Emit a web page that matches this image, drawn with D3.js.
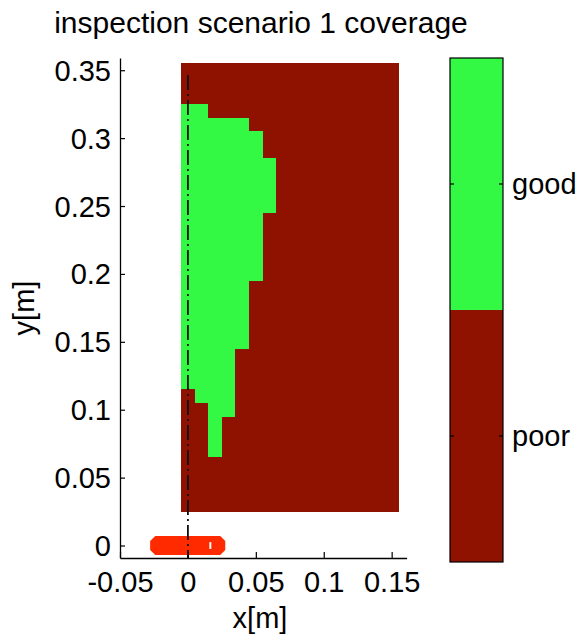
<!DOCTYPE html>
<html>
<head>
<meta charset="utf-8">
<script src="https://cdn.jsdelivr.net/npm/d3@7"></script>
<style>
  html, body { margin: 0; padding: 0; background: #ffffff; }
  svg { display: block; }
  text { font-family: "Liberation Sans", Arial, sans-serif; fill: #000; }
</style>
</head>
<body>
<svg id="chart" width="580" height="637"></svg>
<script>
// ---------------- data ----------------
const titleText = "inspection scenario 1 coverage";
const xLabel = "x[m]";
const yLabel = "y[m]";
const xTicks = [-0.05, 0, 0.05, 0.1, 0.15];
const xTickLabels = ["-0.05", "0", "0.05", "0.1", "0.15"];
const yTicks = [0, 0.05, 0.1, 0.15, 0.2, 0.25, 0.3, 0.35];
const yTickLabels = ["0", "0.05", "0.1", "0.15", "0.2", "0.25", "0.3", "0.35"];
const xDomain = [-0.05, 0.161];
const yDomain = [-0.0092, 0.359];
// cell centres (m); cells are 0.01 m square
const cellSize = 0.01;
const xCells = [0, 0.01, 0.02, 0.03, 0.04, 0.05, 0.06, 0.07, 0.08, 0.09, 0.10, 0.11, 0.12, 0.13, 0.14, 0.15];
const yCells = [0.35, 0.34, 0.33, 0.32, 0.31, 0.30, 0.29, 0.28, 0.27, 0.26, 0.25, 0.24, 0.23, 0.22,
                0.21, 0.20, 0.19, 0.18, 0.17, 0.16, 0.15, 0.14, 0.13, 0.12, 0.11, 0.10, 0.09, 0.08,
                0.07, 0.06, 0.05, 0.04, 0.03];
// coverage per row (top to bottom), one char per x cell: 1 = good, 0 = poor
const coverage = [
  "0000000000000000", // 0.35
  "0000000000000000", // 0.34
  "0000000000000000", // 0.33
  "1100000000000000", // 0.32
  "1111100000000000", // 0.31
  "1111110000000000", // 0.30
  "1111110000000000", // 0.29
  "1111111000000000", // 0.28
  "1111111000000000", // 0.27
  "1111111000000000", // 0.26
  "1111111000000000", // 0.25
  "1111110000000000", // 0.24
  "1111110000000000", // 0.23
  "1111110000000000", // 0.22
  "1111110000000000", // 0.21
  "1111110000000000", // 0.20
  "1111100000000000", // 0.19
  "1111100000000000", // 0.18
  "1111100000000000", // 0.17
  "1111100000000000", // 0.16
  "1111100000000000", // 0.15
  "1111000000000000", // 0.14
  "1111000000000000", // 0.13
  "1111000000000000", // 0.12
  "0111000000000000", // 0.11
  "0011000000000000", // 0.10
  "0010000000000000", // 0.09
  "0010000000000000", // 0.08
  "0010000000000000", // 0.07
  "0000000000000000", // 0.06
  "0000000000000000", // 0.05
  "0000000000000000", // 0.04
  "0000000000000000"  // 0.03
];
const classNames = ["poor", "good"];
const classColors = ["#8f1200", "#33f844"];
// robot outline (m) at the origin
const robotX = [-0.0240, 0.0238, 0.0275, 0.0275, 0.0238, -0.0240, -0.0278, -0.0278];
const robotY = [0.0070, 0.0070, 0.0033, -0.0033, -0.0070, -0.0070, -0.0033, 0.0033];
const robotMarkX = [0.0165, 0.0165];
const robotMarkY = [-0.0025, 0.0025];
// dash-dot reference line along x = 0
const refLineX = [0, 0];
const refLineY = [-0.0092, 0.3465];

// ---------------- layout ----------------
const svg = d3.select("#chart");
const plot = { left: 120, right: 406.6, top: 58, bottom: 558 };
const x = d3.scaleLinear().domain(xDomain).range([plot.left, plot.right]);
const y = d3.scaleLinear().domain(yDomain).range([plot.bottom, plot.top]);
const FS = 29;

// cells
const cells = [];
coverage.forEach((row, ri) => {
  row.split("").forEach((c, ci) => {
    cells.push({ x: xCells[ci], y: yCells[ri], v: +c });
  });
});
const gCells = svg.append("g").attr("shape-rendering", "crispEdges");
gCells.selectAll("rect").data(cells).join("rect")
  .attr("x", d => x(d.x - cellSize / 2))
  .attr("y", d => y(d.y + cellSize / 2))
  .attr("width", d => x(d.x + cellSize / 2) - x(d.x - cellSize / 2) + 0.6)
  .attr("height", d => y(d.y - cellSize / 2) - y(d.y + cellSize / 2) + 0.6)
  .attr("fill", d => classColors[d.v]);

// robot
const robotPts = robotX.map((v, i) => [x(v), y(robotY[i])]);
svg.append("polygon")
  .attr("points", robotPts.map(p => p.join(",")).join(" "))
  .attr("fill", "#ff2a00");
svg.append("line")
  .attr("x1", x(robotMarkX[0])).attr("x2", x(robotMarkX[1]))
  .attr("y1", y(robotMarkY[0])).attr("y2", y(robotMarkY[1]))
  .attr("stroke", "#ffffff").attr("stroke-width", 2);

// reference dash-dot line
svg.append("line")
  .attr("x1", x(refLineX[0])).attr("x2", x(refLineX[1]))
  .attr("y1", y(refLineY[1])).attr("y2", y(refLineY[0]))
  .attr("stroke", "#111").attr("stroke-width", 1.8)
  .attr("stroke-dasharray", "15,4,2,4");

// axes
const xAxis = d3.axisBottom(x).tickValues(xTicks)
  .tickFormat((d, i) => xTickLabels[i]).tickSizeInner(-6).tickSizeOuter(0).tickPadding(8);
const yAxis = d3.axisLeft(y).tickValues(yTicks)
  .tickFormat((d, i) => yTickLabels[i]).tickSizeInner(-5).tickSizeOuter(0).tickPadding(9);

const gx = svg.append("g").attr("transform", `translate(0,${plot.bottom})`).call(xAxis);
const gy = svg.append("g").attr("transform", `translate(${plot.left},0)`).call(yAxis);
[gx, gy].forEach(g => {
  g.select(".domain").attr("stroke", "#000").attr("stroke-width", 1.3);
  g.selectAll(".tick line").attr("stroke", "#000").attr("stroke-width", 1.2);
  g.selectAll(".tick text")
    .attr("font-family", '"Liberation Sans", Arial, sans-serif')
    .attr("font-size", FS).attr("fill", "#000");
});
gx.selectAll(".tick text").attr("dy", null).attr("y", 34);
gy.selectAll(".tick text").attr("dy", null).attr("dominant-baseline", "alphabetic").attr("y", 10);

// title and labels
svg.append("text").attr("x", 261).attr("y", 33)
  .attr("text-anchor", "middle").attr("font-size", 30).text(titleText);
svg.append("text").attr("x", 260).attr("y", 628)
  .attr("text-anchor", "middle").attr("font-size", FS).text(xLabel);
svg.append("text")
  .attr("transform", `translate(34,${(plot.top + plot.bottom) / 2}) rotate(-90)`)
  .attr("text-anchor", "middle").attr("font-size", FS).text(yLabel);

// colorbar
const cb = { left: 450, right: 503, top: 58, bottom: 562 };
const cy = d3.scaleLinear().domain([0, classNames.length]).range([cb.bottom, cb.top]);
const gcb = svg.append("g");
gcb.selectAll("rect.seg").data(classNames).join("rect")
  .attr("class", "seg")
  .attr("x", cb.left).attr("width", cb.right - cb.left)
  .attr("y", (d, i) => cy(i + 1))
  .attr("height", (d, i) => cy(i) - cy(i + 1))
  .attr("fill", (d, i) => classColors[i]);
gcb.append("rect")
  .attr("x", cb.left).attr("y", cb.top)
  .attr("width", cb.right - cb.left).attr("height", cb.bottom - cb.top)
  .attr("fill", "none").attr("stroke", "#000").attr("stroke-width", 1.2);
const cbTicks = gcb.selectAll("g.cbt").data(classNames).join("g")
  .attr("class", "cbt")
  .attr("transform", (d, i) => `translate(0,${cy(i + 0.5)})`);
cbTicks.append("line").attr("x1", cb.left).attr("x2", cb.left + 4)
  .attr("stroke", "#000").attr("stroke-width", 1.2);
cbTicks.append("line").attr("x1", cb.right - 4).attr("x2", cb.right)
  .attr("stroke", "#000").attr("stroke-width", 1.2);
cbTicks.append("text").attr("x", cb.right + 9).attr("y", 10)
  .attr("font-size", FS).text(d => d);
</script>
</body>
</html>
